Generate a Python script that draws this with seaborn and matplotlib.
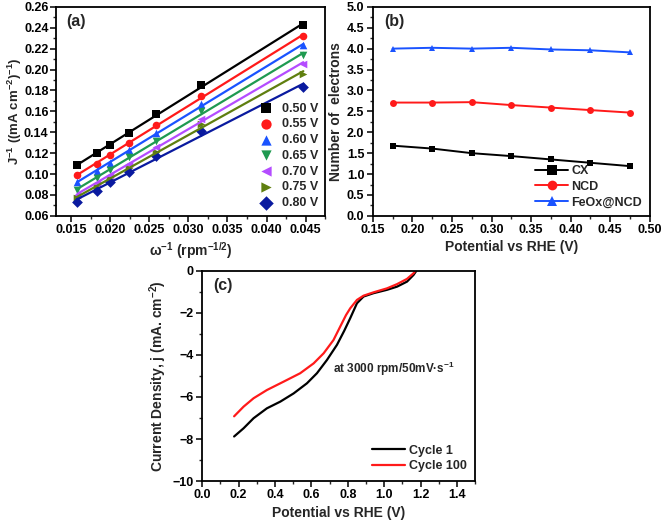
import numpy as np
import pandas as pd
import matplotlib
matplotlib.use("Agg")
import matplotlib.pyplot as plt
from matplotlib.ticker import MultipleLocator, AutoMinorLocator, FormatStrFormatter
import seaborn as sns

sns.set_theme(style="ticks")
plt.rcParams['font.family'] = ['Liberation Sans', 'DejaVu Sans']
plt.rcParams['font.weight'] = 'bold'
plt.rcParams['axes.labelweight'] = 'bold'
plt.rcParams['mathtext.default'] = 'regular'

# ---- Panel (a) data ----
omega_inv = [0.0158, 0.0183, 0.0200, 0.0224, 0.0258, 0.0316, 0.0447]
potentials_a = ["0.50 V", "0.55 V", "0.60 V", "0.65 V", "0.70 V", "0.75 V", "0.80 V"]
j_inv = {
    "0.50 V": [0.109, 0.120, 0.128, 0.139, 0.157, 0.185, 0.243],
    "0.55 V": [0.099, 0.110, 0.118, 0.130, 0.147, 0.175, 0.232],
    "0.60 V": [0.092, 0.103, 0.111, 0.123, 0.139, 0.167, 0.223],
    "0.65 V": [0.085, 0.096, 0.104, 0.116, 0.132, 0.160, 0.214],
    "0.70 V": [0.080, 0.091, 0.099, 0.110, 0.126, 0.153, 0.205],
    "0.75 V": [0.077, 0.088, 0.095, 0.106, 0.121, 0.148, 0.196],
    "0.80 V": [0.073, 0.084, 0.092, 0.102, 0.117, 0.141, 0.183],
}
colors_a = ["#000000", "#ff1a1a", "#1a53ff", "#1f9a50", "#b44cff", "#5f7f0f", "#0a1a9f"]
markers_a = ["s", "o", "^", "v", "<", ">", "D"]

# ---- Panel (b) data ----
potential_b = [0.175, 0.225, 0.275, 0.325, 0.375, 0.425, 0.475]
n_cx = [1.68, 1.61, 1.50, 1.43, 1.35, 1.27, 1.19]
n_ncd = [2.71, 2.71, 2.72, 2.65, 2.59, 2.53, 2.47]
n_feox = [4.00, 4.02, 4.00, 4.02, 3.98, 3.96, 3.91]

# ---- Panel (c) data ----
e_c1 = [0.175, 0.227, 0.282, 0.355, 0.429, 0.502, 0.575, 0.630, 0.685, 0.740, 0.780,
        0.813, 0.850, 0.886, 0.941, 1.015, 1.070, 1.125, 1.161, 1.176]
j_c1 = [-7.88, -7.49, -7.01, -6.54, -6.22, -5.83, -5.35, -4.87, -4.24, -3.52, -2.85,
        -2.25, -1.54, -1.22, -1.06, -0.90, -0.75, -0.51, -0.19, 0.0]
e_c100 = [0.175, 0.227, 0.282, 0.355, 0.447, 0.538, 0.612, 0.667, 0.721, 0.758, 0.790,
          0.813, 0.850, 0.886, 0.941, 1.015, 1.070, 1.125, 1.161, 1.170]
j_c100 = [-6.92, -6.46, -6.06, -5.67, -5.27, -4.87, -4.40, -3.92, -3.29, -2.65, -2.10,
          -1.78, -1.38, -1.18, -1.02, -0.83, -0.63, -0.38, -0.11, 0.0]

fig = plt.figure(figsize=(6.61, 5.24), dpi=100)
axa = fig.add_axes([0.084, 0.588, 0.408, 0.399])
axb = fig.add_axes([0.564, 0.588, 0.419, 0.399])
axc = fig.add_axes([0.306, 0.082, 0.413, 0.401])

tick_fs = 9
label_fs = 10

def style(ax):
    for s in ax.spines.values():
        s.set_linewidth(1.3)
        s.set_color("black")
    ax.tick_params(which="major", direction="out", length=4, width=1.1, labelsize=tick_fs,
                   colors="black", pad=2)
    ax.tick_params(which="minor", direction="out", length=2.2, width=1.0)
    for lab in ax.get_xticklabels() + ax.get_yticklabels():
        lab.set_fontweight("bold")

# Panel (a)
for p, c, m in zip(potentials_a, colors_a, markers_a):
    df = pd.DataFrame({"x": omega_inv, "y": j_inv[p]})
    sns.regplot(data=df, x="x", y="y", ax=axa, ci=None, marker=m, color=c,
                scatter_kws={"s": 30, "linewidths": 0, "alpha": 1}, line_kws={"lw": 1.6},
                label=p, truncate=True)
axa.set_xlim(0.013, 0.0475)
axa.set_ylim(0.06, 0.26)
axa.xaxis.set_major_locator(MultipleLocator(0.005))
axa.yaxis.set_major_locator(MultipleLocator(0.02))
axa.xaxis.set_minor_locator(AutoMinorLocator(2))
axa.yaxis.set_minor_locator(AutoMinorLocator(2))
axa.xaxis.set_major_formatter(FormatStrFormatter("%.3f"))
axa.yaxis.set_major_formatter(FormatStrFormatter("%.2f"))
axa.set_xlabel(r"$\omega^{-1}$ (rpm$^{-1/2}$)", fontsize=label_fs, fontweight="bold", labelpad=3)
axa.set_ylabel(r"J$^{-1}$ ((mA cm$^{-2}$)$^{-1}$)", fontsize=9.5, fontweight="bold", labelpad=0)
axa.text(0.04, 0.93, "(a)", transform=axa.transAxes, fontsize=11.5, fontweight="bold", va="center")
leg = axa.legend(loc="lower right", frameon=False, fontsize=9, handletextpad=0.3,
                 labelspacing=0.3, borderaxespad=0.15, markerscale=1.35)
for t in leg.get_texts():
    t.set_fontweight("bold")
style(axa)
axa.tick_params(axis="y", pad=1)

# Panel (b)
df_b = pd.DataFrame({
    "x": potential_b * 3,
    "y": n_cx + n_ncd + n_feox,
    "s": ["CX"] * 7 + ["NCD"] * 7 + ["FeOx@NCD"] * 7,
})
sns.lineplot(data=df_b, x="x", y="y", hue="s", style="s", ax=axb,
             palette=["#000000", "#ff1a1a", "#1a53ff"], markers=["s", "o", "^"],
             dashes=False, markersize=5, lw=1.4, markeredgewidth=0)
axb.set_xlim(0.15, 0.50)
axb.set_ylim(0, 5)
axb.xaxis.set_major_locator(MultipleLocator(0.05))
axb.yaxis.set_major_locator(MultipleLocator(0.5))
axb.xaxis.set_minor_locator(AutoMinorLocator(2))
axb.yaxis.set_minor_locator(AutoMinorLocator(2))
axb.xaxis.set_major_formatter(FormatStrFormatter("%.2f"))
axb.yaxis.set_major_formatter(FormatStrFormatter("%.1f"))
axb.set_xlabel("Potential vs RHE (V)", fontsize=label_fs, fontweight="bold", labelpad=3)
axb.set_ylabel("Number of  electrons", fontsize=label_fs, fontweight="bold", labelpad=3)
axb.text(0.04, 0.93, "(b)", transform=axb.transAxes, fontsize=11.5, fontweight="bold", va="center")
h, l = axb.get_legend_handles_labels()
for hh in h:
    hh.set_markersize(7)
legb = axb.legend(h, l, loc="lower right", frameon=False, fontsize=9, handletextpad=0.3,
                  labelspacing=0.3, borderaxespad=0.2, handlelength=2.6, title=None)
for t in legb.get_texts():
    t.set_fontweight("bold")
style(axb)

# Panel (c)
sns.lineplot(x=e_c1, y=j_c1, ax=axc, color="black", lw=1.6, label="Cycle 1", sort=False)
sns.lineplot(x=e_c100, y=j_c100, ax=axc, color="#ff1a1a", lw=1.6, label="Cycle 100", sort=False)
axc.set_xlim(0, 1.5)
axc.set_ylim(-10, 0)
axc.xaxis.set_major_locator(MultipleLocator(0.2))
axc.yaxis.set_major_locator(MultipleLocator(2))
axc.xaxis.set_minor_locator(AutoMinorLocator(2))
axc.yaxis.set_minor_locator(AutoMinorLocator(2))
axc.xaxis.set_major_formatter(FormatStrFormatter("%.1f"))
axc.set_xlabel("Potential vs RHE (V)", fontsize=label_fs, fontweight="bold", labelpad=3)
axc.set_ylabel(r"Current Density, j (mA. cm$^{-2}$)", fontsize=label_fs, fontweight="bold", labelpad=3)
axc.text(0.04, 0.93, "(c)", transform=axc.transAxes, fontsize=11.5, fontweight="bold", va="center")
axc.text(0.72, -4.65, "at 3000 rpm/50mV\u00b7s$^{-1}$", fontsize=8.5, fontweight="bold", va="center")
legc = axc.legend(loc="lower right", frameon=False, fontsize=9, handletextpad=0.3,
                  labelspacing=0.3, borderaxespad=0.3, handlelength=2.6)
for t in legc.get_texts():
    t.set_fontweight("bold")
style(axc)

fig.savefig("out.png", dpi=100)
